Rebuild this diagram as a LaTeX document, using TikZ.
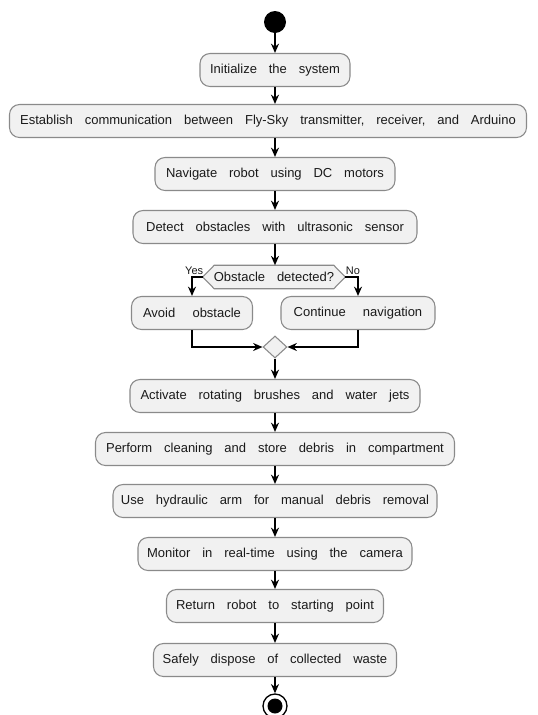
\documentclass[tikz,border=0pt]{standalone}
\usepackage{fontspec}
\setmainfont{Liberation Sans}
\usetikzlibrary{arrows.meta,shapes.geometric,calc}
\definecolor{boxfill}{HTML}{F1F1F1}
\definecolor{boxline}{HTML}{8A8A8A}
\definecolor{txt}{HTML}{1A1A1A}
\newcommand{\widewords}{\fontsize{9.75}{11}\selectfont\spaceskip 8.9pt\relax}
\begin{document}
\begin{tikzpicture}[x=0.75pt,y=-0.75pt,
  act/.style={draw=boxline, line width=0.8pt, fill=boxfill, rounded corners=7.5pt,
    minimum height=24.75pt, inner xsep=0pt, inner ysep=0pt, text=txt,
    execute at begin node=\widewords},
  dectxt/.style={inner sep=0pt, minimum height=17.25pt, text=txt,
    execute at begin node=\widewords},
  lbl/.style={inner sep=1pt, text=txt, font=\fontsize{8.25}{9}\selectfont},
  arr/.style={line width=1.3pt, -{Stealth[length=7pt,width=6pt]}},
]
\clip (0,0) rectangle (537,715);
\fill[white] (0,0) rectangle (537,715);

\node[circle, fill=black, minimum size=16.5pt, inner sep=0pt] (start) at (275,22) {};

\node[act, minimum width=112.5pt] (init) at (275,70) {Initialize the system};
\node[act, minimum width=387.75pt] (estab) at (268,121) {Establish communication between Fly-Sky transmitter, receiver, and Arduino};
\node[act, minimum width=180pt] (nav) at (275,174) {Navigate robot using DC motors};
\node[act, minimum width=213pt] (detect) at (275,227) {Detect obstacles with ultrasonic sensor};

\node[dectxt, minimum width=89.25pt] (dec) at (274,277) {};
\coordinate (decL) at ($(dec.west)+(-11.5,0)$);
\coordinate (decR) at ($(dec.east)+(11.5,0)$);
\draw[draw=boxline, line width=0.8pt, fill=boxfill]
  (decL) -- (dec.north west) -- (dec.north east) -- (decR) -- (dec.south east) -- (dec.south west) -- cycle;
\node[dectxt, minimum width=89.25pt] (dectext) at (dec) {Obstacle detected?};

\node[act, minimum width=90.75pt] (avoid) at (192,313) {Avoid\hspace{4pt} obstacle};
\node[act, minimum width=115.5pt] (cont) at (358,313) {Continue\hspace{4pt} navigation};

\node[diamond, draw=boxline, line width=0.8pt, fill=boxfill, inner sep=0pt, aspect=1,
  minimum width=18pt, minimum height=16.5pt] (merge) at (275,347) {};

\node[act, minimum width=217.5pt] (activ) at (275,396) {Activate rotating brushes and water jets};
\node[act, minimum width=269.25pt] (perf) at (275,449) {Perform cleaning and store debris in compartment};
\node[act, minimum width=243pt] (hyd) at (275,501) {Use hydraulic arm for manual debris removal};
\node[act, minimum width=205.5pt] (mon) at (275,554) {Monitor in real-time using the camera};
\node[act, minimum width=162.75pt] (ret) at (275,606) {Return robot to starting point};
\node[act, minimum width=182.25pt] (safe) at (275,660) {Safely dispose of collected waste};

\node[circle, draw=black, line width=1pt, fill=white, minimum size=18pt, inner sep=0pt] (end) at (275,706) {};
\fill[black] (end.center) circle (7.5);

\draw[arr] (start) -- (init);
\draw[arr] (init) -- (init |- estab.north);
\draw[arr] (nav.north |- estab.south) -- (nav);
\draw[arr] (nav) -- (detect);
\draw[arr] (detect.south) -- (detect.south |- dec.north);
\draw[arr] (decL) -| (avoid.north);
\draw[arr] (decR) -| (cont.north);
\node[lbl, anchor=south east] at ($(decL)+(2,-1)$) {Yes};
\node[lbl, anchor=south west] at ($(decR)+(-1,-1)$) {No};
\draw[arr] (avoid.south) |- (merge.west);
\draw[arr] (cont.south) |- (merge.east);
\draw[arr] (merge) -- (activ);
\draw[arr] (activ) -- (perf);
\draw[arr] (perf) -- (hyd);
\draw[arr] (hyd) -- (mon);
\draw[arr] (mon) -- (ret);
\draw[arr] (ret) -- (safe);
\draw[arr] (safe) -- (end);
\end{tikzpicture}
\end{document}
